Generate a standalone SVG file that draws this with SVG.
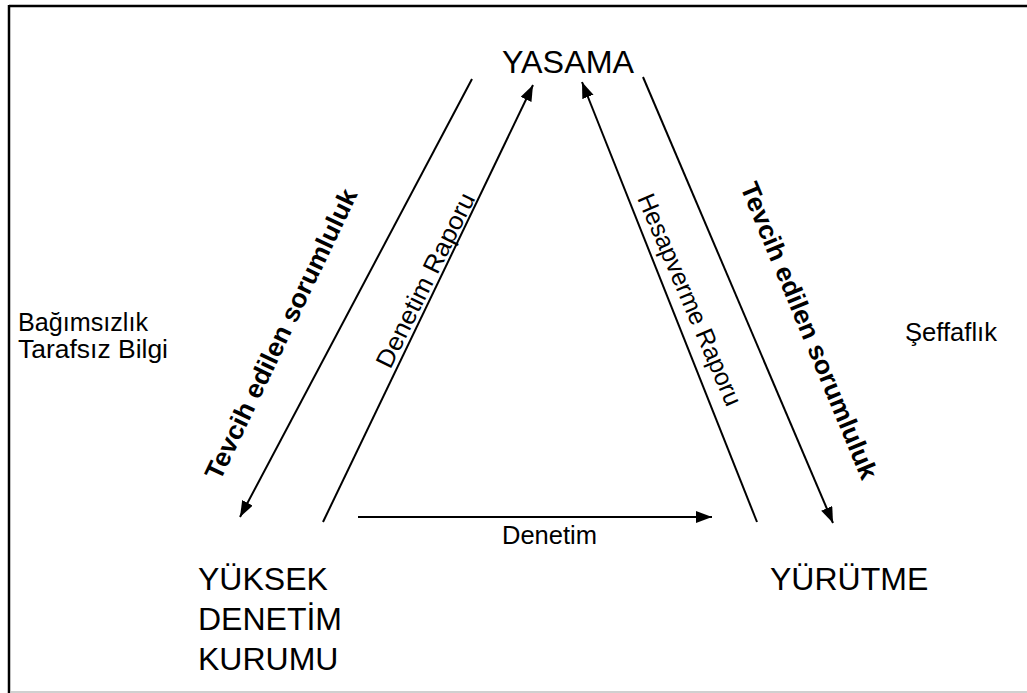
<svg xmlns="http://www.w3.org/2000/svg" width="1027" height="693" viewBox="0 0 1027 693">
<defs>
<style>
.t{font-family:"Liberation Sans",Arial,sans-serif;fill:#000}
.big{font-size:32px}
.sm{font-size:25px}
.b{font-weight:bold;font-size:26px}
.c{stroke:#000;stroke-width:2;fill:none}
</style>
<marker id="ah" markerUnits="userSpaceOnUse" markerWidth="18" markerHeight="14" refX="16" refY="6" orient="auto">
<path d="M0,0 L16,6 L0,12 z" fill="#000"/>
</marker>
</defs>
<rect x="0" y="0" width="1027" height="693" fill="#fff"/>
<g id="frame">
<line x1="9" y1="6" x2="1027" y2="6" stroke="#000" stroke-width="2.5"/>
<line x1="9" y1="5" x2="9" y2="693" stroke="#000" stroke-width="2.5"/>
<line x1="10" y1="692" x2="1027" y2="692" stroke="#c0c0c0" stroke-width="1.5"/>
</g>
<g id="connectors">
<line class="c" x1="472" y1="79" x2="240" y2="517" marker-end="url(#ah)"/>
<line class="c" x1="323" y1="522" x2="533" y2="85" marker-end="url(#ah)"/>
<line class="c" x1="757" y1="522" x2="582" y2="82" marker-end="url(#ah)"/>
<line class="c" x1="643" y1="77" x2="833" y2="523" marker-end="url(#ah)"/>
<line class="c" x1="358" y1="517" x2="712" y2="517" marker-end="url(#ah)"/>
<text class="t b" text-anchor="middle" textLength="319" lengthAdjust="spacingAndGlyphs" transform="translate(289,338) rotate(-64.4)">Tevcih edilen sorumluluk</text>
<text class="t sm" text-anchor="middle" textLength="192" lengthAdjust="spacingAndGlyphs" transform="translate(433,284) rotate(-63.6)">Denetim Raporu</text>
<text class="t sm" text-anchor="middle" textLength="228" lengthAdjust="spacingAndGlyphs" transform="translate(682,303) rotate(66.8)">Hesapverme Raporu</text>
<text class="t b" text-anchor="middle" textLength="319" lengthAdjust="spacingAndGlyphs" transform="translate(801,334) rotate(67.5)">Tevcih edilen sorumluluk</text>
<text class="t sm" x="502" y="544" textLength="95" lengthAdjust="spacingAndGlyphs">Denetim</text>
</g>
<g id="yasama">
<text class="t big" x="502" y="73" textLength="132" lengthAdjust="spacingAndGlyphs">YASAMA</text>
</g>
<g id="sai">
<text class="t big" x="198" y="590">YÜKSEK</text>
<text class="t big" x="198" y="630">DENETİM</text>
<text class="t big" x="198" y="670">KURUMU</text>
</g>
<g id="yurutme">
<text class="t big" x="770" y="590">YÜRÜTME</text>
</g>
<g id="sai-note">
<text class="t sm" x="18" y="331" textLength="130" lengthAdjust="spacingAndGlyphs">Bağımsızlık</text>
<text class="t sm" x="18" y="358" textLength="150" lengthAdjust="spacingAndGlyphs">Tarafsız Bilgi</text>
</g>
<g id="exec-note">
<text class="t sm" x="905" y="341" textLength="92" lengthAdjust="spacingAndGlyphs">Şeffaflık</text>
</g>
</svg>
